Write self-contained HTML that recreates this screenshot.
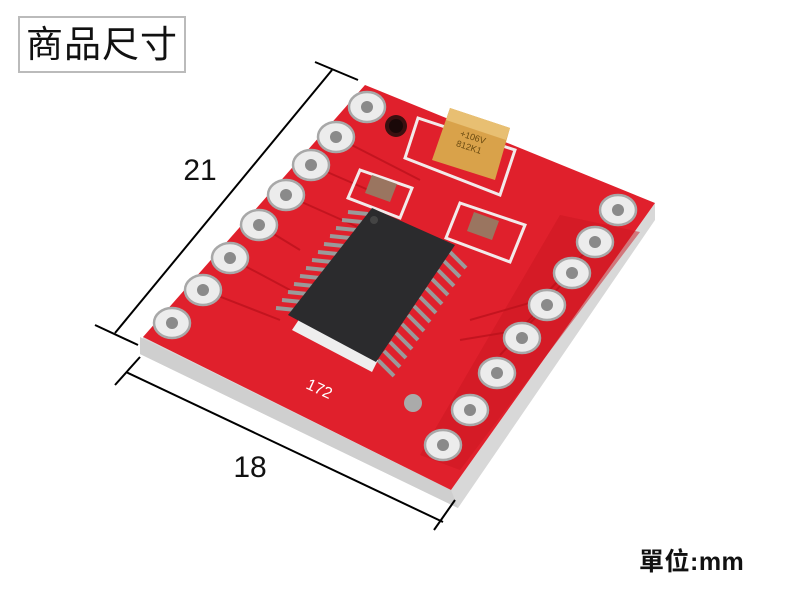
<!DOCTYPE html>
<html><head><meta charset="utf-8"><style>
body{margin:0;width:800px;height:600px;background:#fff;overflow:hidden;position:relative;font-family:"Liberation Sans","Noto Sans CJK TC",sans-serif}
.t{position:absolute;left:18px;top:16px;width:164px;height:53px;border:2px solid #bbb;font-size:37px;line-height:53px;text-align:center;color:#111;letter-spacing:1px}
.u{position:absolute;left:639px;top:542px;font-size:25px;font-weight:bold;color:#111;letter-spacing:0.5px}
svg{position:absolute;left:0;top:0}
</style></head><body>
<div class="t">商品尺寸</div>
<div class="u">單位:mm</div>
<svg width="800" height="600" viewBox="0 0 800 600">
<polygon points="143,337 451,490 655,203 655,220 458,508 140,354" fill="#d8d8d8"/>
<polygon points="140,337 451,490 458,508 140,354" fill="#cfcfcf"/>
<polygon points="365,85 655,203 451,490 143,337" fill="#e0202c"/>
<polygon points="560,215 640,232 460,470 420,455" fill="#c9151f" opacity="0.5"/>
<g stroke="#b8101a" stroke-width="2" fill="none" opacity="0.7">
<path d="M336,137 L420,180"/><path d="M311,165 L380,195"/><path d="M286,195 L360,228"/><path d="M259,225 L300,250"/><path d="M230,258 L290,290"/><path d="M203,290 L280,320"/>
<path d="M595,242 L540,300 L470,320"/><path d="M572,273 L520,330 L460,340"/><path d="M547,305 L500,355"/>
</g>
<g fill="none" stroke="#f2eaea" stroke-width="3">
<polygon points="418,118 515,150 500,195 405,158"/>
<polygon points="360,170 412,188 400,218 348,198"/>
<polygon points="460,203 525,225 510,262 446,238"/>
</g>
<polygon points="450,108 510,128 495,180 432,160" fill="#d9a24a"/>
<polygon points="450,108 510,128 506,140 446,120" fill="#e8bf72"/>
<text x="472" y="140" font-size="9" fill="#6a4a10" transform="rotate(18 472 140)" text-anchor="middle">+106V</text>
<text x="468" y="150" font-size="9" fill="#6a4a10" transform="rotate(18 468 150)" text-anchor="middle">812K1</text>
<polygon points="372,175 397,184 390,202 365,193" fill="#9a7560"/>
<polygon points="474,212 499,221 492,240 467,231" fill="#9a7560"/>
<circle cx="396" cy="126" r="11" fill="#3a1010"/>
<circle cx="396" cy="126" r="7" fill="#1a0808"/>
<g stroke="#9a9a9a" stroke-width="4">
<line x1="368" y1="214" x2="348" y2="212"/><line x1="362" y1="222" x2="342" y2="220"/><line x1="356" y1="230" x2="336" y2="228"/><line x1="350" y1="238" x2="330" y2="236"/><line x1="344" y1="246" x2="324" y2="244"/><line x1="338" y1="254" x2="318" y2="252"/><line x1="332" y1="262" x2="312" y2="260"/><line x1="326" y1="270" x2="306" y2="268"/><line x1="320" y1="278" x2="300" y2="276"/><line x1="314" y1="286" x2="294" y2="284"/><line x1="308" y1="294" x2="288" y2="292"/><line x1="302" y1="302" x2="282" y2="300"/><line x1="296" y1="310" x2="276" y2="308"/>
<line x1="450" y1="252" x2="466" y2="268"/><line x1="444" y1="261" x2="460" y2="277"/><line x1="438" y1="270" x2="454" y2="286"/><line x1="432" y1="279" x2="448" y2="295"/><line x1="426" y1="288" x2="442" y2="304"/><line x1="420" y1="297" x2="436" y2="313"/><line x1="414" y1="306" x2="430" y2="322"/><line x1="408" y1="315" x2="424" y2="331"/><line x1="402" y1="324" x2="418" y2="340"/><line x1="396" y1="333" x2="412" y2="349"/><line x1="390" y1="342" x2="406" y2="358"/><line x1="384" y1="351" x2="400" y2="367"/><line x1="378" y1="360" x2="394" y2="376"/>
</g>
<polygon points="300,318 378,360 372,372 292,330" fill="#eee"/>
<polygon points="372,208 455,245 376,362 288,315" fill="#2b2b2d"/>
<circle cx="374" cy="220" r="4" fill="#444"/>
<g fill="#ececec" stroke="#a8a8a8" stroke-width="2.5">
<ellipse cx="367" cy="107" rx="18" ry="15"/><ellipse cx="336" cy="137" rx="18" ry="15"/><ellipse cx="311" cy="165" rx="18" ry="15"/><ellipse cx="286" cy="195" rx="18" ry="15"/><ellipse cx="259" cy="225" rx="18" ry="15"/><ellipse cx="230" cy="258" rx="18" ry="15"/><ellipse cx="203" cy="290" rx="18" ry="15"/><ellipse cx="172" cy="323" rx="18" ry="15"/>
<ellipse cx="618" cy="210" rx="18" ry="15"/><ellipse cx="595" cy="242" rx="18" ry="15"/><ellipse cx="572" cy="273" rx="18" ry="15"/><ellipse cx="547" cy="305" rx="18" ry="15"/><ellipse cx="522" cy="338" rx="18" ry="15"/><ellipse cx="497" cy="373" rx="18" ry="15"/><ellipse cx="470" cy="410" rx="18" ry="15"/><ellipse cx="443" cy="445" rx="18" ry="15"/>
</g>
<g fill="#8a8a8a">
<circle cx="367" cy="107" r="6"/><circle cx="336" cy="137" r="6"/><circle cx="311" cy="165" r="6"/><circle cx="286" cy="195" r="6"/><circle cx="259" cy="225" r="6"/><circle cx="230" cy="258" r="6"/><circle cx="203" cy="290" r="6"/><circle cx="172" cy="323" r="6"/>
<circle cx="618" cy="210" r="6"/><circle cx="595" cy="242" r="6"/><circle cx="572" cy="273" r="6"/><circle cx="547" cy="305" r="6"/><circle cx="522" cy="338" r="6"/><circle cx="497" cy="373" r="6"/><circle cx="470" cy="410" r="6"/><circle cx="443" cy="445" r="6"/>
</g>
<circle cx="413" cy="403" r="9" fill="#aaa"/>
<text x="305" y="388" font-size="16" fill="#fff" transform="rotate(25 305 388)">172</text>
<g stroke="#000" stroke-width="2">
<line x1="332" y1="70" x2="115" y2="333"/>
<line x1="315" y1="62" x2="358" y2="80"/>
<line x1="95" y1="325" x2="138" y2="345"/>
<line x1="126" y1="372" x2="443" y2="522"/>
<line x1="140" y1="357" x2="115" y2="385"/>
<line x1="455" y1="500" x2="434" y2="530"/>
</g>
<text x="200" y="180" font-size="30" text-anchor="middle" fill="#111">21</text>
<text x="250" y="477" font-size="30" text-anchor="middle" fill="#111">18</text>
</svg>
</body></html>
